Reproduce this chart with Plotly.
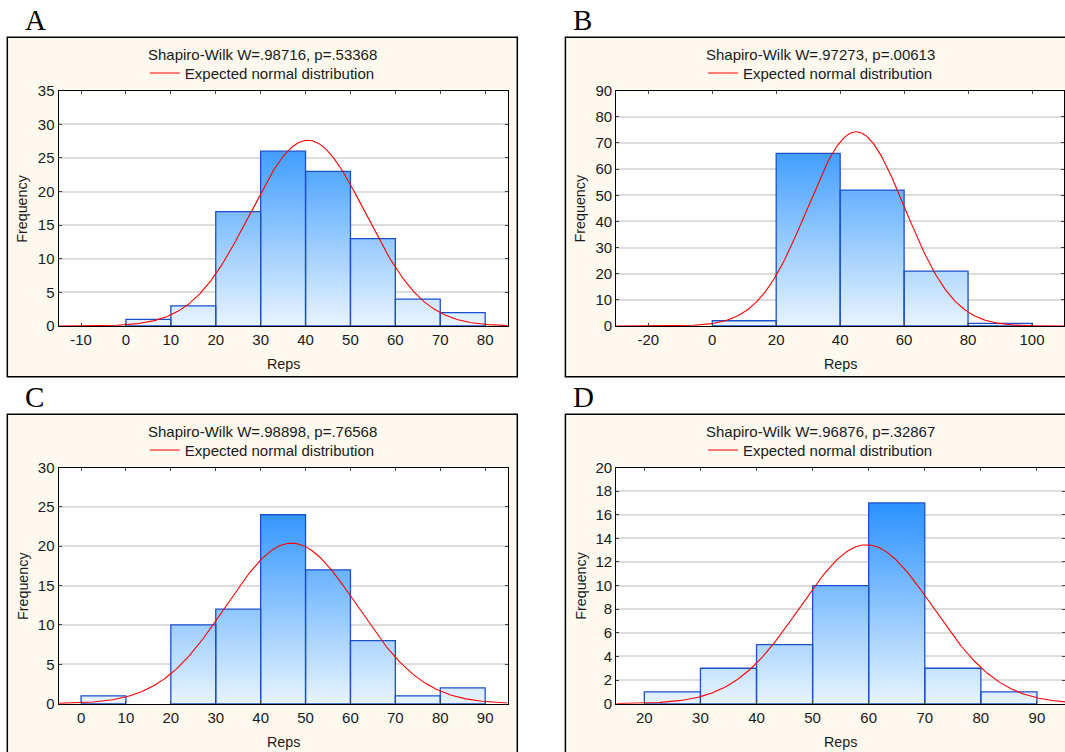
import numpy as np
import plotly.graph_objects as go

W, H = 1065, 752

# ---------------- data ----------------
panel_letters = ["A", "B", "C", "D"]
sw_titles = [
    "Shapiro-Wilk W=.98716, p=.53368",
    "Shapiro-Wilk W=.97273, p=.00613",
    "Shapiro-Wilk W=.98898, p=.76568",
    "Shapiro-Wilk W=.96876, p=.32867",
]
legend_label = "Expected normal distribution"
x_title = "Reps"
y_title = "Frequency"

a_edges = [0, 10, 20, 30, 40, 50, 60, 70, 80]
a_counts = [1, 3, 17, 26, 23, 13, 4, 2]
b_edges = [0, 20, 40, 60, 80, 100]
b_counts = [2, 66, 52, 21, 1]
c_edges = [0, 10, 20, 30, 40, 50, 60, 70, 80, 90]
c_counts = [1, 0, 10, 12, 24, 17, 8, 1, 2]
d_edges = [20, 30, 40, 50, 60, 70, 80, 90]
d_counts = [1, 3, 5, 10, 17, 3, 1]

# fitted normal parameters (mean, sd)
a_fit = (40.5, 12.85)
b_fit = (45.0, 15.25)
c_fit = (46.9, 14.67)
d_fit = (59.6, 11.86)

a_xticks = [-10, 0, 10, 20, 30, 40, 50, 60, 70, 80]
a_yticks = [0, 5, 10, 15, 20, 25, 30, 35]
b_xticks = [-20, 0, 20, 40, 60, 80, 100]
b_yticks = [0, 10, 20, 30, 40, 50, 60, 70, 80, 90]
c_xticks = [0, 10, 20, 30, 40, 50, 60, 70, 80, 90]
c_yticks = [0, 5, 10, 15, 20, 25, 30]
d_xticks = [20, 30, 40, 50, 60, 70, 80, 90]
d_yticks = [0, 2, 4, 6, 8, 10, 12, 14, 16, 18, 20]

a_xrange, a_yrange = [-15, 85], [0, 35]
b_xrange, b_yrange = [-30, 110], [0, 90]
c_xrange, c_yrange = [-5, 95], [0, 30]
d_xrange, d_yrange = [15, 95], [0, 20]

panels = [
    (a_edges, a_counts, a_fit, a_xrange, a_yrange, a_xticks, a_yticks),
    (b_edges, b_counts, b_fit, b_xrange, b_yrange, b_xticks, b_yticks),
    (c_edges, c_counts, c_fit, c_xrange, c_yrange, c_xticks, c_yticks),
    (d_edges, d_counts, d_fit, d_xrange, d_yrange, d_xticks, d_yticks),
]

# ---------------- layout geometry (pixels) ----------------
boxes = [(7.3, 517.3, 37.3, 376.7), (565.4, 1075.4, 37.3, 376.7),
         (7.3, 517.3, 414.3, 753.7), (565.4, 1075.4, 414.3, 753.7)]
plots = [(58.6, 507.6, 90.7, 326.0), (616.3, 1064.0, 90.7, 326.0),
         (58.6, 507.6, 467.5, 703.7), (616.3, 1065.0, 467.5, 703.7)]

def px(x):
    return x / W

def py(y):
    return 1 - y / H

FONT = "Liberation Sans, Arial, sans-serif"
SERIF = "Liberation Serif, Times New Roman, serif"
TXT = "#1a1a1a"

fig = go.Figure()
shapes = []
annotations = []
layout_axes = {}

grad = [[0.0, "rgb(232,244,255)"], [1.0, "rgb(8,128,255)"]]

for i, (edges, counts, fit, xr, yr, xt, yt) in enumerate(panels):
    n = i + 1
    xa = "x" if n == 1 else f"x{n}"
    ya = "y" if n == 1 else f"y{n}"
    lg = "legend" if n == 1 else f"legend{n}"

    # bars as closed polygons built from bin edges and counts
    bx, by = [], []
    for j, c in enumerate(counts):
        if c <= 0:
            continue
        l, r = edges[j], edges[j + 1]
        bx += [l, l, r, r, l, None]
        by += [0, c, c, 0, 0, None]
    fig.add_trace(go.Scatter(
        x=bx, y=by, xaxis=xa, yaxis=ya, mode="lines", fill="toself",
        fillgradient=dict(type="vertical", colorscale=grad, start=yr[0], stop=yr[1]),
        line=dict(color="#1a50cc", width=1.3), showlegend=False, hoverinfo="skip",
    ))

    # expected normal curve
    mean, sd = fit
    total = sum(counts)
    bw = edges[1] - edges[0]
    xs = np.linspace(xr[0], xr[1], 400)
    ys = total * bw / (sd * np.sqrt(2 * np.pi)) * np.exp(-(xs - mean) ** 2 / (2 * sd ** 2))
    fig.add_trace(go.Scatter(
        x=xs, y=ys, xaxis=xa, yaxis=ya, mode="lines",
        line=dict(color="#ff0000", width=1.1), name=legend_label,
        legend=lg, showlegend=True,
    ))

    bx0, bx1, by0, by1 = boxes[i]
    qx0, qx1, qy0, qy1 = plots[i]
    cx = bx0 + 255

    shapes.append(dict(type="rect", xref="paper", yref="paper", layer="below",
                       x0=px(bx0), x1=px(bx1), y0=py(by1), y1=py(by0),
                       fillcolor="#fdf9ee", line=dict(color="black", width=1.5)))
    shapes.append(dict(type="rect", xref="paper", yref="paper", layer="below",
                       x0=px(qx0), x1=px(qx1), y0=py(qy1), y1=py(qy0),
                       fillcolor="white", line=dict(width=0)))

    axis_common = dict(showline=True, linecolor="black", linewidth=1.2, mirror="ticks",
                       ticks="inside", ticklen=3, tickcolor="#444", zeroline=False,
                       automargin=False,
                       tickfont=dict(family=FONT, size=15, color=TXT))
    layout_axes["xaxis" if n == 1 else f"xaxis{n}"] = dict(
        domain=[px(qx0), min(1.0, px(qx1))], range=xr, anchor=ya,
        tickmode="array", tickvals=xt, ticktext=[str(v) for v in xt],
        showgrid=False, **axis_common)
    layout_axes["yaxis" if n == 1 else f"yaxis{n}"] = dict(
        domain=[py(qy1), py(qy0)], range=yr, anchor=xa,
        tickmode="array", tickvals=yt, ticktext=[str(v) for v in yt],
        showgrid=True, gridcolor="#dcdcdc", gridwidth=1.5, **axis_common)

    layout_axes[lg] = dict(
        x=px(cx), y=py(by0 + 36.0), xanchor="center", yanchor="middle",
        bgcolor="rgba(0,0,0,0)", borderwidth=0,
        font=dict(family=FONT, size=15, color=TXT), itemwidth=30,
    )

    annotations.append(dict(text=panel_letters[i], xref="paper", yref="paper",
                            x=px(bx0 + 15.2 if i in (0, 2) else bx0 + 5.6), y=py(by0 - 17.0),
                            xanchor="left", yanchor="middle", showarrow=False,
                            font=dict(family=SERIF, size=29, color="black")))
    annotations.append(dict(text=sw_titles[i], xref="paper", yref="paper",
                            x=px(cx), y=py(by0 + 17.0), xanchor="center", yanchor="middle",
                            showarrow=False, font=dict(family=FONT, size=15, color=TXT)))
    annotations.append(dict(text=x_title, xref="paper", yref="paper",
                            x=px((qx0 + qx1) / 2), y=py(qy1 + 38), xanchor="center",
                            yanchor="middle", showarrow=False,
                            font=dict(family=FONT, size=14.3, color=TXT)))
    annotations.append(dict(text=y_title, xref="paper", yref="paper",
                            x=px(qx0 - 36.2), y=py((qy0 + qy1) / 2), xanchor="center",
                            yanchor="middle", textangle=-90, showarrow=False,
                            font=dict(family=FONT, size=14.3, color=TXT)))

fig.update_layout(
    template="none",
    width=W, height=H, autosize=False,
    margin=dict(l=0, r=0, t=0, b=0, pad=0, autoexpand=False),
    paper_bgcolor="white", plot_bgcolor="rgba(0,0,0,0)",
    shapes=shapes, annotations=annotations, **layout_axes,
)

fig.write_html("out.html", config={"displayModeBar": False},
               post_script="document.body.style.margin='0px';")
